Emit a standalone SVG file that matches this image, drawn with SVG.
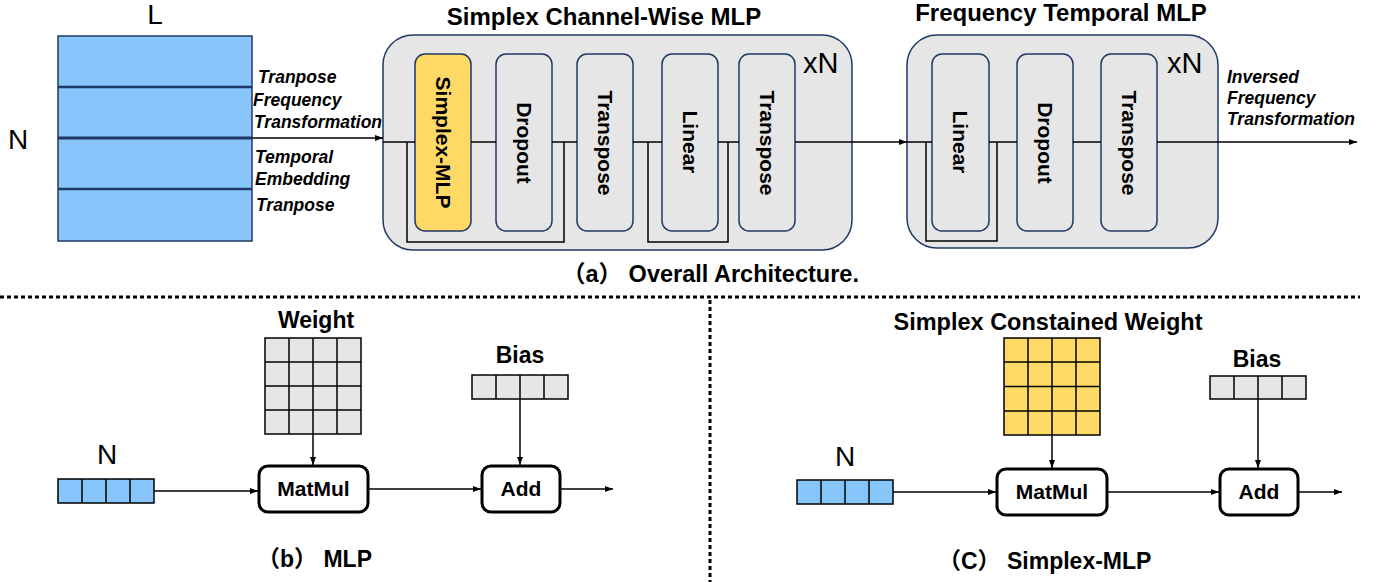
<svg xmlns="http://www.w3.org/2000/svg" width="1380" height="582" viewBox="0 0 1380 582">
<defs>
<style>
.t{font-family:"Liberation Sans",Arial,"Noto Sans CJK SC",sans-serif;fill:#000}
.b{font-weight:bold}
.it{font-family:"Liberation Sans",Arial,sans-serif;font-weight:bold;font-style:italic;font-size:17.5px}
.cont{fill:#e7e6e6;stroke:#203864;stroke-width:1.5}
.box{fill:#e7e6e6;stroke:#203864;stroke-width:1.5}
.yel{fill:#ffd966;stroke:#203864;stroke-width:1.5}
.op{fill:#fff;stroke:#000;stroke-width:3}
.grid{stroke:#000;stroke-width:1.5}
.ln{fill:none;stroke:#000;stroke-width:1.5}
.dot{fill:none;stroke:#000;stroke-width:3;stroke-dasharray:4 3}
.rl{font-size:21px;font-weight:bold}
</style>
<marker id="ah" viewBox="0 0 8 8" refX="8" refY="4" markerWidth="8" markerHeight="8" markerUnits="userSpaceOnUse" orient="auto">
<path d="M0,1 L8,4 L0,7 z" fill="#000"/>
</marker>
</defs>
<rect width="1380" height="582" fill="#fff"/>

<!-- Input block -->
<g id="input-block">
<rect x="58" y="36" width="194" height="205" fill="#87c5fb" stroke="#1f3864" stroke-width="1.5"/>
<path d="M58,87 H252 M58,189 H252" stroke="#1f3864" stroke-width="2.5"/>
<path d="M58,138 H252" stroke="#1f3864" stroke-width="3"/>
<text class="t" x="155" y="24" font-size="28" text-anchor="middle">L</text>
<text class="t" x="18" y="149" font-size="28" text-anchor="middle">N</text>
</g>

<g id="input-labels">
<text class="it" x="258" y="83">Tranpose</text>
<text class="it" x="253" y="106">Frequency</text>
<text class="it" x="254" y="128">Transformation</text>
<text class="it" x="255" y="163">Temporal</text>
<text class="it" x="255" y="185">Embedding</text>
<text class="it" x="256" y="211">Tranpose</text>
</g>

<!-- Simplex Channel-Wise MLP -->
<g id="simplex-channel-mlp">
<text class="t b" x="604" y="25" font-size="24" text-anchor="middle">Simplex Channel-Wise MLP</text>
<rect class="cont" x="383" y="35" width="469" height="215" rx="30"/>
<text class="t" x="803" y="73" font-size="29">xN</text>
</g>
<g id="box-simplex-mlp">
<rect class="yel" x="415" y="54" width="56" height="177" rx="10"/>
<text class="t rl" transform="translate(443,142.5) rotate(90)" text-anchor="middle" dominant-baseline="central">Simplex-MLP</text>
</g>
<g id="box-dropout-1">
<rect class="box" x="496" y="54" width="56" height="177" rx="10"/>
<text class="t rl" transform="translate(524,143) rotate(90)" text-anchor="middle" dominant-baseline="central">Dropout</text>
</g>
<g id="box-transpose-1">
<rect class="box" x="577" y="54" width="56" height="177" rx="10"/>
<text class="t rl" transform="translate(605,143) rotate(90)" text-anchor="middle" dominant-baseline="central">Transpose</text>
</g>
<g id="box-linear-1">
<rect class="box" x="662" y="54" width="56" height="177" rx="10"/>
<text class="t rl" transform="translate(690,142) rotate(90)" text-anchor="middle" dominant-baseline="central">Linear</text>
</g>
<g id="box-transpose-2">
<rect class="box" x="739" y="54" width="56" height="177" rx="10"/>
<text class="t rl" transform="translate(767,143) rotate(90)" text-anchor="middle" dominant-baseline="central">Transpose</text>
</g>

<!-- Frequency Temporal MLP -->
<g id="frequency-temporal-mlp">
<text class="t b" x="1061" y="21" font-size="24" text-anchor="middle">Frequency Temporal MLP</text>
<rect class="cont" x="907" y="35" width="311" height="213" rx="30"/>
<text class="t" x="1167" y="73" font-size="29">xN</text>
</g>
<g id="box-linear-2">
<rect class="box" x="932" y="54" width="57" height="177" rx="10"/>
<text class="t rl" transform="translate(960.5,142) rotate(90)" text-anchor="middle" dominant-baseline="central">Linear</text>
</g>
<g id="box-dropout-2">
<rect class="box" x="1017" y="54" width="56" height="177" rx="10"/>
<text class="t rl" transform="translate(1045,143) rotate(90)" text-anchor="middle" dominant-baseline="central">Dropout</text>
</g>
<g id="box-transpose-3">
<rect class="box" x="1101" y="54" width="56" height="177" rx="10"/>
<text class="t rl" transform="translate(1129,143) rotate(90)" text-anchor="middle" dominant-baseline="central">Transpose</text>
</g>

<g id="output-labels">
<text class="it" x="1227" y="83">Inversed</text>
<text class="it" x="1227" y="104">Frequency</text>
<text class="it" x="1227" y="125">Transformation</text>
</g>

<g id="caption-a">
<text class="t b" x="562" y="282" font-size="23.5">（a） Overall Architecture.</text>
</g>

<g id="separators">
<path class="dot" d="M0,297 H1360"/>
<path class="dot" d="M710,300 V582"/>
</g>

<!-- (b) MLP -->
<g id="mlp-input">
<text class="t" x="107" y="464" font-size="28" text-anchor="middle">N</text>
<rect x="58" y="479" width="96" height="24" fill="#87c5fb" class="grid"/>
<path class="grid" d="M82,479 V503 M106,479 V503 M130,479 V503"/>
</g>
<g id="mlp-weight">
<text class="t b" x="316" y="328" font-size="23" text-anchor="middle">Weight</text>
<rect x="265" y="338" width="96" height="96" fill="#e6e6e6" class="grid"/>
<path class="grid" d="M289,338 V434 M313,338 V434 M337,338 V434 M265,362 H361 M265,386 H361 M265,410 H361"/>
</g>
<g id="mlp-bias">
<text class="t b" x="520" y="363" font-size="23" text-anchor="middle">Bias</text>
<rect x="472" y="375" width="96" height="24" fill="#e6e6e6" class="grid"/>
<path class="grid" d="M496,375 V399 M520,375 V399 M544,375 V399"/>
</g>
<g id="mlp-matmul">
<rect class="op" x="259" y="466" width="109" height="46" rx="9"/>
<text class="t b" x="313.5" y="496" font-size="21" text-anchor="middle">MatMul</text>
</g>
<g id="mlp-add">
<rect class="op" x="482" y="466" width="78" height="46" rx="9"/>
<text class="t b" x="521" y="496" font-size="21" text-anchor="middle">Add</text>
</g>
<g id="caption-b">
<text class="t b" x="257" y="567" font-size="23">（b） MLP</text>
</g>

<!-- (C) Simplex-MLP -->
<g id="smlp-input">
<text class="t" x="845" y="466" font-size="28" text-anchor="middle">N</text>
<rect x="797" y="480" width="96" height="24" fill="#87c5fb" class="grid"/>
<path class="grid" d="M821,480 V504 M845,480 V504 M869,480 V504"/>
</g>
<g id="smlp-weight">
<text class="t b" x="1048" y="330" font-size="23.5" text-anchor="middle">Simplex Constained Weight</text>
<rect x="1004" y="338" width="96" height="97" fill="#ffd966" class="grid"/>
<path class="grid" d="M1028,338 V435 M1052,338 V435 M1076,338 V435 M1004,362 H1100 M1004,386.5 H1100 M1004,411 H1100"/>
</g>
<g id="smlp-bias">
<text class="t b" x="1257" y="367" font-size="23" text-anchor="middle">Bias</text>
<rect x="1210" y="376" width="96" height="23" fill="#e6e6e6" class="grid"/>
<path class="grid" d="M1234,376 V399 M1258,376 V399 M1282,376 V399"/>
</g>
<g id="smlp-matmul">
<rect class="op" x="997" y="469" width="110" height="46" rx="9"/>
<text class="t b" x="1052" y="499" font-size="21" text-anchor="middle">MatMul</text>
</g>
<g id="smlp-add">
<rect class="op" x="1220" y="469" width="78" height="46" rx="9"/>
<text class="t b" x="1259" y="499" font-size="21" text-anchor="middle">Add</text>
</g>
<g id="caption-c">
<text class="t b" x="938" y="569" font-size="23">（C） Simplex-MLP</text>
</g>

<!-- Connectors -->
<g id="connectors">
<path class="ln" d="M252,138 H383" marker-end="url(#ah)"/>
<path class="ln" d="M383,142 H415 M471,142 H496 M552,142 H577 M633,142 H662 M718,142 H739"/>
<path class="ln" d="M795,142 H907" marker-end="url(#ah)"/>
<path class="ln" d="M407,142 V242 H564 V142"/>
<path class="ln" d="M648,142 V242 H728 V142"/>
<path class="ln" d="M907,142 H932 M989,142 H1017 M1073,142 H1101"/>
<path class="ln" d="M1157,142 H1357" marker-end="url(#ah)"/>
<path class="ln" d="M926,142 V241 H997 V142"/>

<path class="ln" d="M154,491 H258" marker-end="url(#ah)"/>
<path class="ln" d="M369,489 H481" marker-end="url(#ah)"/>
<path class="ln" d="M561,489 H613" marker-end="url(#ah)"/>
<path class="ln" d="M313,434 V465" marker-end="url(#ah)"/>
<path class="ln" d="M520,399 V465" marker-end="url(#ah)"/>

<path class="ln" d="M893,492 H996" marker-end="url(#ah)"/>
<path class="ln" d="M1108,492 H1219" marker-end="url(#ah)"/>
<path class="ln" d="M1299,492 H1342" marker-end="url(#ah)"/>
<path class="ln" d="M1052,435 V468" marker-end="url(#ah)"/>
<path class="ln" d="M1258,399 V468" marker-end="url(#ah)"/>
</g>
</svg>
